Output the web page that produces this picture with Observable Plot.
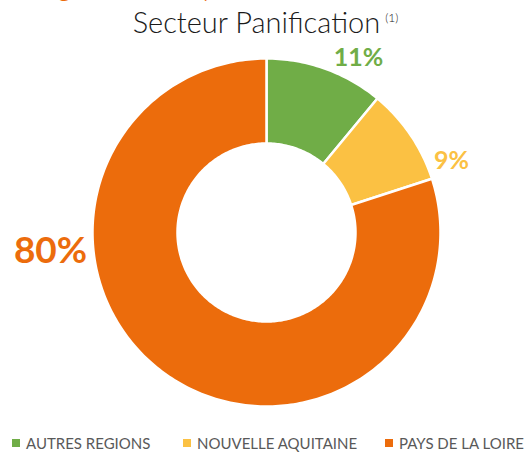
<!DOCTYPE html>
<html><head><meta charset="utf-8">
<script src="https://cdn.jsdelivr.net/npm/d3@7"></script>
<script src="https://cdn.jsdelivr.net/npm/@observablehq/plot@0.6"></script>
<style>
body{margin:0;width:531px;height:452px;overflow:hidden;background:#fff;position:relative;font-family:Lato,"Open Sans",sans-serif}
#cut{position:absolute;left:0;top:-34px;height:40px;width:531px;overflow:hidden;color:#EC6C0C;font-size:30px;font-weight:300;white-space:nowrap}
#cut span{position:absolute;top:0}
#title{position:absolute;left:0;top:4px;width:531px;text-align:center;font-size:29px;font-weight:300;color:#1a1a1a;white-space:nowrap}
#title sup{font-size:12px;vertical-align:top;position:relative;top:6px;margin-left:5px}
#chart{position:absolute;left:0;top:47px}
#legend{position:absolute;left:0;top:434px;width:531px;height:18px;font-size:15px;color:#595959;white-space:nowrap}
.item{position:absolute;top:0;display:flex;align-items:center}
.sw{width:8px;height:8px;margin-right:6px}
</style></head><body>
<div id="cut"><span style="left:16px">Origine</span><span style="left:160px">moyenne</span></div>
<div id="title">Secteur Panification<sup>(1)</sup></div>
<div id="chart"></div>
<div id="legend"></div>
<script>
const categories = ["AUTRES REGIONS", "NOUVELLE AQUITAINE", "PAYS DE LA LOIRE"];
const shares = [11, 9, 80];
const labels = ["11%", "9%", "80%"];
const colors = ["#70AD47", "#FBC143", "#EC6C0C"];

// layout constants (pixels)
const W = 531, H = 370, CX = 266, CY = 185, R_OUT = 174, R_IN = 89;
const labelOffset = {"AUTRES REGIONS": [92, -175, 25], "NOUVELLE AQUITAINE": [185, -72, 25], "PAYS DE LA LOIRE": [-216, 19, 37]};
const legendLeft = [12, 183, 385];

const total = d3.sum(shares);
let acc = 0;
const pts = [];
categories.forEach((c, i) => {
  const a0 = acc / total * 2 * Math.PI;
  acc += shares[i];
  const a1 = acc / total * 2 * Math.PI;
  const n = Math.max(4, Math.ceil((a1 - a0) / (2 * Math.PI) * 360));
  for (let k = 0; k <= n; k++) {
    const a = a0 + (a1 - a0) * k / n;
    pts.push({cat: c, x: R_OUT * Math.sin(a), y: -R_OUT * Math.cos(a)});
  }
  for (let k = n; k >= 0; k--) {
    const a = a0 + (a1 - a0) * k / n;
    pts.push({cat: c, x: R_IN * Math.sin(a), y: -R_IN * Math.cos(a)});
  }
});
const labelData = categories.map((c, i) => ({cat: c, text: labels[i], x: labelOffset[c][0], y: labelOffset[c][1], size: labelOffset[c][2]}));

const plot = Plot.plot({
  width: W, height: H, margin: 0,
  style: {overflow: "visible", background: "transparent"},
  x: {domain: [-CX, W - CX], range: [0, W], axis: null},
  y: {domain: [-CY, H - CY], range: [0, H], axis: null},
  color: {domain: categories, range: colors},
  marks: [
    Plot.line(pts, {x: "x", y: "y", z: "cat", fill: "cat", stroke: "white", strokeWidth: 2.5, curve: "linear-closed"}),
    ...labelData.map(d => Plot.text([d], {x: "x", y: "y", text: "text", fill: "cat", fontSize: d.size, fontWeight: 700, fontFamily: "Lato, sans-serif", textAnchor: "middle", lineAnchor: "middle"}))
  ]
});
document.getElementById("chart").appendChild(plot);

const leg = d3.select("#legend");
categories.forEach((c, i) => {
  const it = leg.append("div").attr("class", "item").style("left", legendLeft[i] + "px");
  it.append("div").attr("class", "sw").style("background", colors[i]);
  it.append("span").text(c);
});
</script>
</body></html>
